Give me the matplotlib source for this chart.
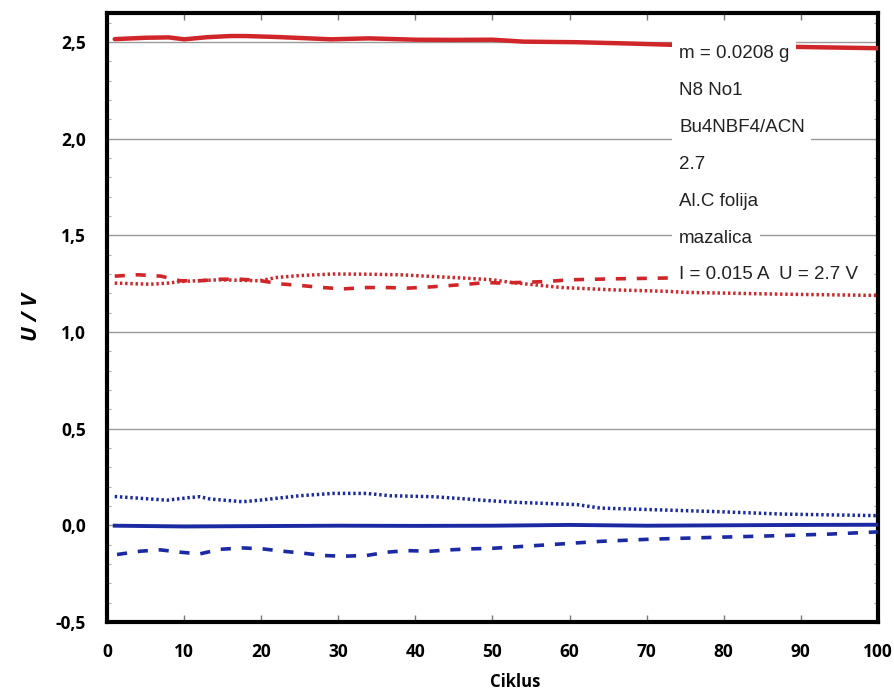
import matplotlib
matplotlib.use("Agg")
import matplotlib.pyplot as plt
from matplotlib.ticker import MultipleLocator

# ---- data ----
red_solid_x = [1, 5, 8, 10, 13, 16, 18, 22, 25, 29, 34, 40, 45, 50, 54, 61, 67, 73, 80, 86, 92, 100]
red_solid_y = [2.515, 2.522, 2.524, 2.514, 2.525, 2.531, 2.531, 2.526, 2.521, 2.514, 2.519, 2.512,
               2.511, 2.512, 2.502, 2.499, 2.493, 2.486, 2.480, 2.477, 2.473, 2.468]

red_dash_x = [1, 4, 7, 9.5, 12, 14.7, 17.3, 20, 22.4, 25, 28, 30.6, 33.7, 36.3, 39, 41.5, 44,
              46.7, 49.3, 51, 57, 60, 65.6, 70.8, 73.5]
red_dash_y = [1.289, 1.296, 1.289, 1.265, 1.265, 1.273, 1.273, 1.265, 1.249, 1.241, 1.230, 1.223,
              1.230, 1.230, 1.227, 1.232, 1.239, 1.247, 1.256, 1.253, 1.261, 1.270, 1.275, 1.278, 1.280]

red_dot_x = [1, 5.6, 8, 9.5, 11.6, 14.6, 19.8, 22, 25, 29.3, 33.7, 38, 42.3, 46.7, 50, 52.7,
             59, 65.6, 73, 75, 87, 100]
red_dot_y = [1.253, 1.247, 1.253, 1.261, 1.265, 1.270, 1.265, 1.282, 1.292, 1.300, 1.299, 1.296,
             1.287, 1.278, 1.270, 1.255, 1.230, 1.218, 1.210, 1.205, 1.196, 1.189]

blue_solid_x = [1, 10, 20, 30, 40, 50, 60, 70, 80, 90, 100]
blue_solid_y = [-0.002, -0.006, -0.004, -0.002, -0.003, -0.002, 0.002, -0.002, 0.0, 0.002, 0.003]

blue_dot_x = [1, 7.8, 10.8, 12, 13.4, 17.6, 19.8, 25, 29.3, 33.7, 36.7, 42.3, 46.7, 49.3, 53,
              61, 64, 79, 87.7, 100]
blue_dot_y = [0.149, 0.130, 0.144, 0.148, 0.136, 0.122, 0.130, 0.153, 0.165, 0.165, 0.153, 0.148,
              0.136, 0.128, 0.119, 0.107, 0.089, 0.071, 0.058, 0.050]

blue_dash_x = [1.3, 4.3, 6.9, 9.5, 12, 14.7, 17.6, 20.2, 22.8, 25.4, 28, 30.6, 33.7, 36.3, 38.9,
               41.9, 44.5, 47, 50, 57.5, 64, 70.4, 79, 87.7, 94, 100]
blue_dash_y = [-0.151, -0.134, -0.127, -0.139, -0.148, -0.124, -0.117, -0.122, -0.134, -0.144,
               -0.156, -0.160, -0.156, -0.139, -0.131, -0.134, -0.127, -0.122, -0.119, -0.100,
               -0.083, -0.072, -0.062, -0.053, -0.045, -0.034]

x_ticks = [0, 10, 20, 30, 40, 50, 60, 70, 80, 90, 100]
y_ticks = [-0.5, 0.0, 0.5, 1.0, 1.5, 2.0, 2.5]
y_tick_labels = ["-0,5", "0,0", "0,5", "1,0", "1,5", "2,0", "2,5"]

info_lines = ["m = 0.0208 g", "N8 No1", "Bu4NBF4/ACN", "2.7", "Al.C folija", "mazalica",
              "I = 0.015 A  U = 2.7 V"]

RED = "#d0262a"
BLUE = "#1b2aa3"

fig = plt.figure(figsize=(8.94, 6.93), dpi=100)
ax = fig.add_axes([0.1197, 0.1025, 0.8623, 0.8787])

# grid lines at every 0.5
for yv in y_ticks[1:]:
    ax.axhline(yv, color="#9a9a9a", lw=1.0, zorder=1)

ax.plot(red_solid_x, red_solid_y, color=RED, lw=3.2, solid_capstyle="round", zorder=3)
ax.plot(red_dash_x, red_dash_y, color=RED, lw=2.6, linestyle=(0, (2.8, 3.0)), zorder=3)
ax.plot(red_dot_x, red_dot_y, color=RED, lw=2.5, linestyle=(0, (0.7, 0.8)), zorder=3)

ax.plot(blue_solid_x, blue_solid_y, color=BLUE, lw=2.8, zorder=3)
ax.plot(blue_dot_x, blue_dot_y, color=BLUE, lw=2.5, linestyle=(0, (0.7, 0.8)), zorder=3)
ax.plot(blue_dash_x, blue_dash_y, color=BLUE, lw=2.6, linestyle=(0, (2.8, 3.0)), zorder=3)

ax.set_xlim(0, 100)
ax.set_ylim(-0.5, 2.65)

for s in ax.spines.values():
    s.set_linewidth(3.0)
    s.set_color("black")

tick_font = {"family": "Open Sans", "weight": "bold", "size": 12.5}
ax.set_xticks(x_ticks)
ax.set_xticklabels([str(v) for v in x_ticks], fontdict=tick_font)
ax.set_yticks(y_ticks)
ax.set_yticklabels(y_tick_labels, fontdict=tick_font)
ax.yaxis.set_minor_locator(MultipleLocator(0.1))

ax.tick_params(axis="x", which="major", direction="in", length=5, width=1, color="#777777",
               top=True, pad=15)
ax.tick_params(axis="y", which="major", direction="in", length=0, pad=15)
ax.tick_params(axis="y", which="minor", direction="in", length=3, width=0.8, color="#aaaaaa",
               right=True, left=True)

ax.set_xlabel("Ciklus", fontdict={"family": "Open Sans", "weight": "bold", "size": 12})
ax.xaxis.set_label_coords(0.53, -0.083)
ax.set_ylabel("U / V", fontdict={"family": "Open Sans", "weight": "bold", "style": "italic",
                                  "size": 15.5}, labelpad=10)

# annotation block on the right
for i, line in enumerate(info_lines):
    ax.text(0.742, 0.934 - i * 0.0607, line, transform=ax.transAxes, ha="left", va="center",
            fontsize=13.5, family="Liberation Sans", color="#222222", zorder=5,
            bbox=dict(boxstyle="square,pad=0.35", facecolor="white", edgecolor="none"))

fig.savefig("out.png", dpi=100)
